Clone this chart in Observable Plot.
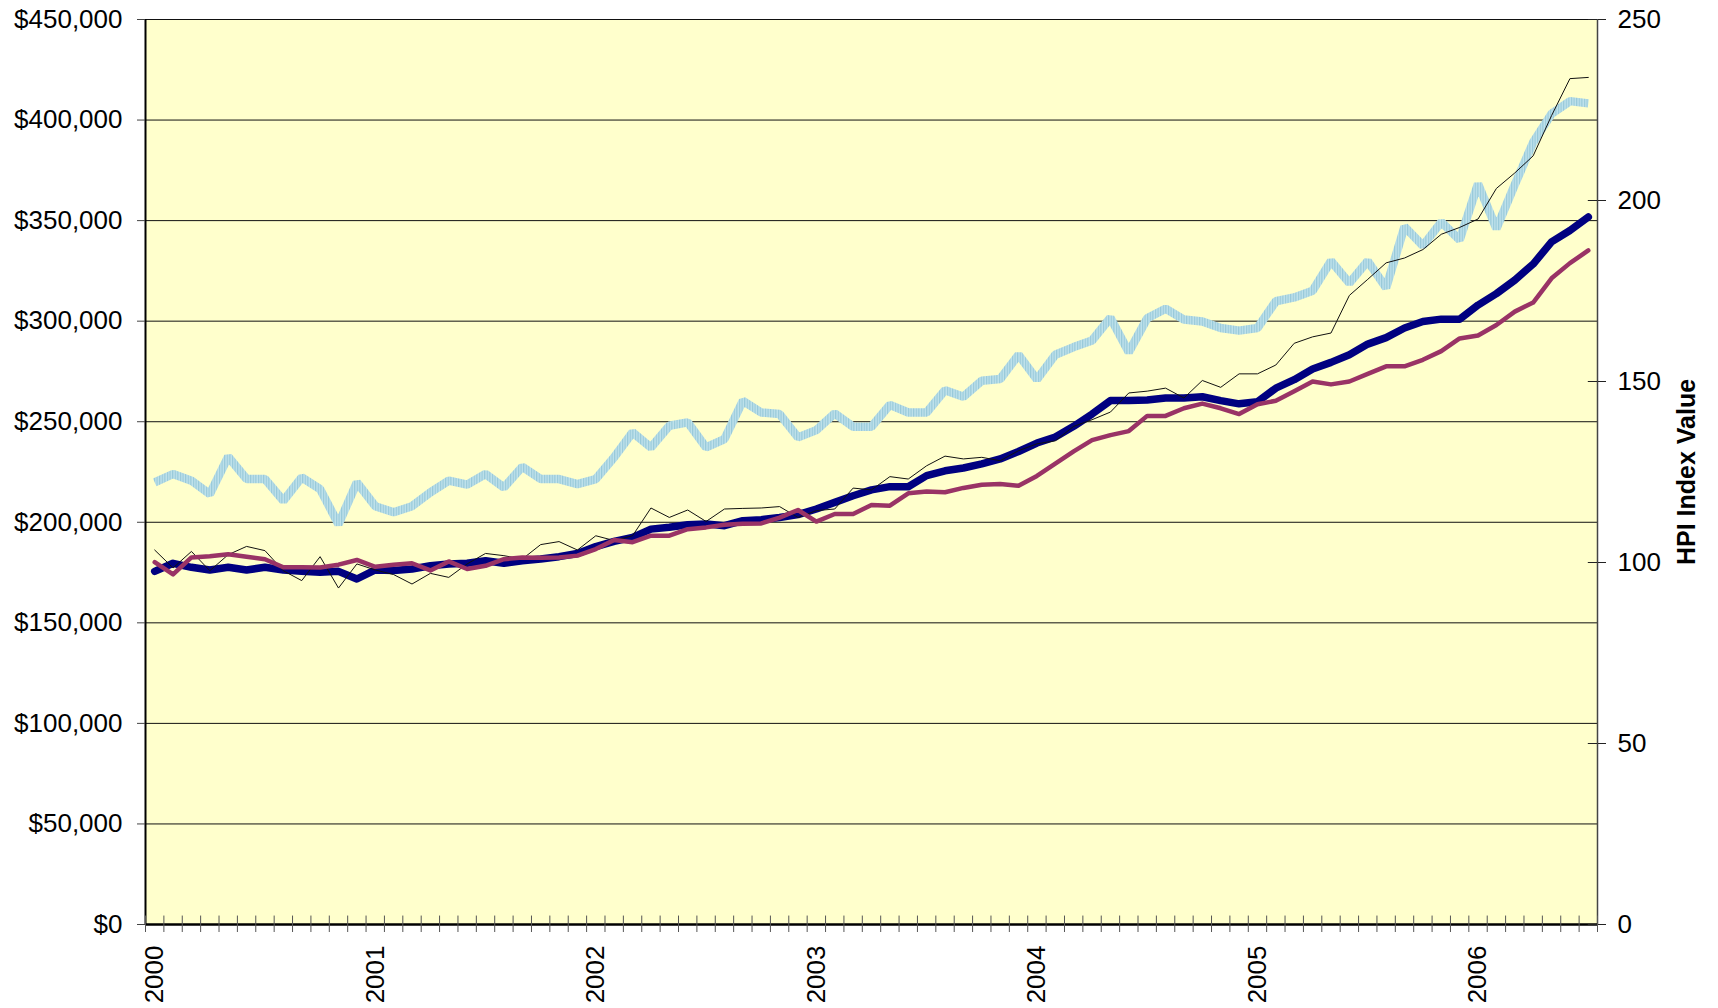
<!DOCTYPE html>
<html><head><meta charset="utf-8">
<script src="https://cdn.jsdelivr.net/npm/d3@7"></script>
<script src="https://cdn.jsdelivr.net/npm/@observablehq/plot@0.6"></script>
<style>html,body{margin:0;padding:0;background:#fff;overflow:hidden} svg{display:block}</style>
</head><body><div id="chart"></div>
<script>
// Year labels (one per January, first category of each year)
const years = ["2000", "2001", "2002", "2003", "2004", "2005", "2006"];

// Monthly values, Jan 2000 – Jul 2006 (79 months), in thousands of dollars (left axis)
const medianPriceK = [
  219.8, 224.0, 220.7, 214.0, 232.6, 221.5, 221.5, 210.7, 222.3, 216.5, 199.0, 219.8,
  208.0, 205.0, 208.0, 214.9, 220.7, 218.7, 224.0, 217.3, 227.6, 221.5, 221.5, 219.0,
  221.5, 232.3, 244.7, 237.2, 248.0, 249.7, 237.2, 241.4, 260.4, 254.6, 253.8, 242.2,
  245.8, 254.1, 247.5, 247.5, 258.4, 254.6, 254.6, 265.7, 262.4, 270.4, 271.2, 283.3,
  271.0, 283.3, 287.1, 290.4, 301.7, 284.6, 301.4, 306.2, 300.8, 299.8, 296.6, 295.3,
  296.6, 309.9, 311.8, 315.1, 329.9, 318.9, 329.9, 316.6, 347.0, 337.5, 349.3, 340.4,
  368.3, 346.0, 367.9, 388.9, 403.1, 409.4, 408.3
];
const salePriceK = [
  186.2, 177.3, 185.5, 175.9, 183.9, 188.0, 185.9, 175.9, 171.0, 182.9, 167.3, 179.3,
  176.3, 174.0, 169.3, 174.6, 172.6, 179.3, 184.5, 183.4, 181.7, 188.9, 190.4, 186.2,
  193.3, 190.9, 193.3, 207.1, 202.4, 206.1, 200.4, 206.6, 206.9, 207.1, 207.8, 202.4,
  205.8, 206.6, 217.0, 216.1, 222.7, 221.5, 228.1, 232.9, 231.5, 232.3, 230.6, 235.6,
  239.0, 240.5, 247.7, 251.0, 254.8, 264.3, 265.2, 266.7, 261.8, 270.5, 267.1, 273.8,
  273.8, 278.2, 289.0, 292.2, 294.1, 312.8, 320.8, 329.0, 331.4, 335.6, 343.2, 346.6,
  350.8, 366.0, 373.7, 382.2, 402.2, 420.6, 421.2
];
const smoothedPriceK = [
  175.6, 179.6, 177.6, 176.3, 177.6, 176.3, 177.6, 176.3, 175.6, 175.1, 175.6, 171.8,
  176.3, 176.0, 176.8, 178.4, 179.3, 179.6, 180.9, 179.6, 180.9, 181.7, 182.9, 184.5,
  187.9, 190.5, 192.5, 196.6, 197.5, 198.8, 199.2, 198.3, 200.8, 201.3, 202.4, 203.8,
  206.6, 209.9, 213.2, 216.1, 217.7, 217.7, 223.2, 225.6, 227.0, 229.0, 231.5, 235.2,
  239.4, 242.4, 247.7, 253.8, 260.5, 260.5, 260.8, 261.8, 261.8, 262.4, 260.5, 258.9,
  259.9, 266.7, 270.9, 276.2, 279.5, 283.3, 288.6, 291.8, 296.6, 299.8, 301.0, 301.0,
  308.0, 313.7, 320.4, 328.4, 339.4, 345.1, 351.8
];
// HPI index values (right axis)
const hpiIndex = [
  100.1, 96.7, 101.4, 101.7, 102.3, 101.6, 100.9, 98.7, 98.7, 98.6, 99.4, 100.7,
  98.8, 99.4, 99.8, 97.8, 100.3, 98.2, 99.1, 100.9, 101.4, 101.3, 101.4, 101.9,
  103.7, 106.2, 105.6, 107.4, 107.4, 109.2, 109.7, 110.4, 110.7, 110.8, 112.4, 114.5,
  111.3, 113.4, 113.4, 115.9, 115.7, 119.1, 119.6, 119.4, 120.6, 121.5, 121.7, 121.2,
  123.9, 127.3, 130.7, 133.8, 135.2, 136.3, 140.5, 140.5, 142.6, 143.9, 142.6, 141.0,
  143.7, 144.7, 147.3, 150.0, 149.2, 150.0, 152.1, 154.2, 154.2, 156.0, 158.4, 161.9,
  162.7, 165.6, 169.3, 171.8, 178.5, 182.7, 186.2
];

const leftTicks = [0, 50000, 100000, 150000, 200000, 250000, 300000, 350000, 400000, 450000];
const rightTicks = [0, 50, 100, 150, 200, 250];
const HPI_TO_USD = 1800; // right axis 250 aligns with $450,000 on the left

const months = medianPriceK.length;
const rows = (arr, k) => arr.map((v, i) => ({i: i + 0.5, v: v * k}));
const rightTicksUSD = rightTicks.map(d => d * HPI_TO_USD);

const plot = Plot.plot({
  width: 1718, height: 1008,
  marginLeft: 145, marginRight: 121, marginTop: 19, marginBottom: 84,
  style: {fontFamily: "'Liberation Sans', Arial, sans-serif", fontSize: "26px", background: "#fff", color: "#000", overflow: "visible"},
  x: {domain: [0, months], axis: null},
  y: {domain: [0, 450000], axis: null},
  marks: [
    Plot.frame({fill: "#ffffcc", stroke: "none"}),
    Plot.ruleY(leftTicks.slice(1), {stroke: "#111", strokeWidth: 1}),
    Plot.line(rows(medianPriceK, 1000), {x: "i", y: "v", stroke: "url(#lbStripe)", strokeWidth: 8.5, strokeLinejoin: "miter", strokeLinecap: "butt"}),
    Plot.line(rows(smoothedPriceK, 1000), {x: "i", y: "v", stroke: "#000080", strokeWidth: 7.5, strokeLinejoin: "round", strokeLinecap: "round"}),
    Plot.line(rows(salePriceK, 1000), {x: "i", y: "v", stroke: "#111", strokeWidth: 1}),
    Plot.line(rows(hpiIndex, HPI_TO_USD), {x: "i", y: "v", stroke: "#993366", strokeWidth: 4.5, strokeLinejoin: "round", strokeLinecap: "round"}),
    // axis lines
    Plot.ruleX([0], {stroke: "#000", strokeWidth: 2}),
    Plot.ruleX([months], {stroke: "#444", strokeWidth: 1.5}),
    Plot.ruleY([0], {stroke: "#000", strokeWidth: 2.5}),
    // left axis
    Plot.axisY(leftTicks, {anchor: "left", label: null, tickFormat: d3.format("$,"), tickSize: 8, tickPadding: 15, fontSize: 26, stroke: "#444"}),
    // right axis (HPI)
    Plot.axisY(rightTicksUSD, {anchor: "right", label: null, tickFormat: d => d / HPI_TO_USD, tickSize: 8, tickPadding: 12, fontSize: 26, stroke: "#222"}),
    Plot.ruleY(rightTicksUSD, {x1: months - 0.5, x2: months, stroke: "#222", strokeWidth: 1}),
    Plot.text(["HPI Index Value"], {frameAnchor: "right", dx: 89, rotate: -90, textAnchor: "middle", lineAnchor: "middle", fontWeight: "bold", fontSize: 25}),
    // bottom axis: month ticks crossing the axis
    Plot.axisX(d3.range(months + 1), {anchor: "bottom", label: null, tickSize: 8, tickFormat: () => "", stroke: "#555"}),
    Plot.ruleX(d3.range(months + 1), {y1: 0, y2: 4200, stroke: "#555", strokeWidth: 1}),
    Plot.text(years, {x: (d, i) => i * 12 + 0.5, frameAnchor: "bottom", dy: 21, rotate: -90, textAnchor: "end", lineAnchor: "middle", fontSize: 26})
  ]
});

const svgNS = "http://www.w3.org/2000/svg";
const defs = document.createElementNS(svgNS, "defs");
defs.innerHTML = '<pattern id="lbStripe" patternUnits="userSpaceOnUse" width="2.6" height="10">' +
  '<rect width="2.6" height="10" fill="#c0e2ec"/><rect width="1.2" height="10" fill="#97c9d9"/></pattern>';
plot.insertBefore(defs, plot.firstChild);
document.getElementById("chart").appendChild(plot);
</script>
</body></html>
